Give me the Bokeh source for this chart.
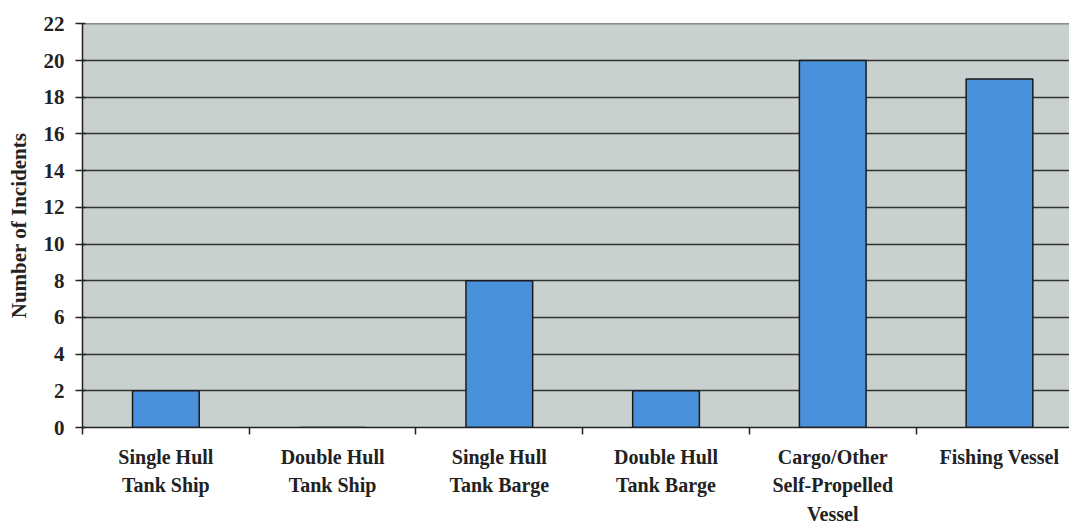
from bokeh.plotting import figure
from bokeh.models import FixedTicker, ColumnDataSource
from bokeh.embed import file_html
from bokeh.resources import INLINE

# Incidents by vessel type
categories = [
    "Single Hull\nTank Ship",
    "Double Hull\nTank Ship",
    "Single Hull\nTank Barge",
    "Double Hull\nTank Barge",
    "Cargo/Other\nSelf-Propelled\nVessel",
    "Fishing Vessel",
]
incidents = [2, 0, 8, 2, 20, 19]
y_ticks = list(range(0, 23, 2))

positions = list(range(1, len(categories) + 1))
source = ColumnDataSource(data=dict(x=positions, top=incidents))

FONT = "Liberation Serif"
INK = "#222222"

p = figure(
    width=1069, height=527,
    x_range=(0.5, 6.42), y_range=(0, 22.02),
    output_backend="svg", toolbar_location=None,
    min_border_left=82, min_border_right=0,
    min_border_top=23, min_border_bottom=99,
)
p.border_fill_color = "white"
p.outline_line_color = None

# plot area fill
p.background_fill_color = "#c9d1d0"

p.vbar(x="x", top="top", width=0.4, bottom=0, source=source,
       fill_color="#4a91dc", line_color="#1a1a1a", line_width=1.5)

# y axis
p.yaxis.ticker = FixedTicker(ticks=y_ticks)
p.yaxis.axis_label = "Number of Incidents"
p.yaxis.axis_label_text_font = FONT
p.yaxis.axis_label_text_font_style = "bold"
p.yaxis.axis_label_text_font_size = "21px"
p.yaxis.axis_label_text_color = INK
p.yaxis.axis_label_standoff = 10
p.yaxis.major_label_text_font = FONT
p.yaxis.major_label_text_font_style = "bold"
p.yaxis.major_label_text_font_size = "21px"
p.yaxis.major_label_text_color = INK
p.yaxis.major_label_standoff = 11
p.yaxis.major_tick_in = 3
p.yaxis.major_tick_out = 7
p.yaxis.minor_tick_line_color = None
p.yaxis.axis_line_color = INK
p.yaxis.axis_line_width = 1.5
p.yaxis.major_tick_line_color = INK
p.yaxis.major_tick_line_width = 1.5

# x axis: labels at category centres, tick marks at category boundaries
boundaries = [b + 0.5 for b in range(0, len(categories) + 1)]
p.xaxis.ticker = FixedTicker(ticks=positions, minor_ticks=boundaries)
p.xaxis.major_label_overrides = {i + 1: c for i, c in enumerate(categories)}
p.xaxis.major_tick_line_color = None
p.xaxis.minor_tick_in = 0
p.xaxis.minor_tick_out = 7
p.xaxis.minor_tick_line_color = INK
p.xaxis.minor_tick_line_width = 1.5
p.xaxis.axis_line_color = INK
p.xaxis.axis_line_width = 1.5
p.xaxis.major_label_text_font = FONT
p.xaxis.major_label_text_font_style = "bold"
p.xaxis.major_label_text_font_size = "20px"
p.xaxis.major_label_text_color = INK
p.xaxis.major_label_text_line_height = 1.3
p.xaxis.major_label_standoff = 11

# grid
p.xgrid.grid_line_color = None
p.ygrid.ticker = FixedTicker(ticks=y_ticks)
p.ygrid.grid_line_color = "#333333"
p.ygrid.grid_line_width = 1.4

open("out.html", "w").write(file_html(p, INLINE))
